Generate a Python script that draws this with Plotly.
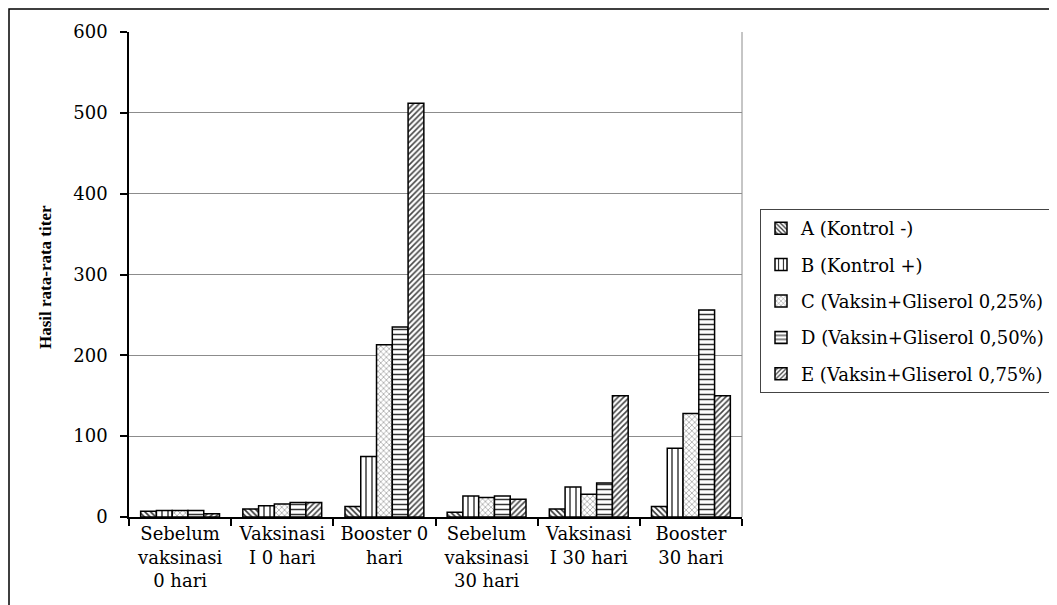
import plotly.graph_objects as go

categories = [
    "Sebelum<br>vaksinasi<br>0 hari",
    "Vaksinasi<br>I 0 hari",
    "Booster 0<br>hari",
    "Sebelum<br>vaksinasi<br>30 hari",
    "Vaksinasi<br>I 30 hari",
    "Booster<br>30 hari",
]
series_names = [
    "A (Kontrol -)",
    "B (Kontrol +)",
    "C (Vaksin+Gliserol 0,25%)",
    "D (Vaksin+Gliserol 0,50%)",
    "E (Vaksin+Gliserol 0,75%)",
]
values_A = [7, 10, 13, 6, 10, 13]
values_B = [8, 14, 75, 26, 37, 85]
values_C = [8, 16, 213, 24, 28, 128]
values_D = [8, 18, 235, 26, 42, 256]
values_E = [4, 18, 512, 22, 150, 150]
y_ticks = [0, 100, 200, 300, 400, 500, 600]
y_title = "Hasil rata-rata titer"

all_values = [values_A, values_B, values_C, values_D, values_E]
patterns = [
    dict(shape="\\", size=4, solidity=0.4, fg="#333333"),
    dict(shape="|", size=6, solidity=0.22, fg="#222222"),
    dict(shape="x", size=4, solidity=0.2, fg="#555555"),
    dict(shape="-", size=5, solidity=0.3, fg="#333333"),
    dict(shape="/", size=4, solidity=0.4, fg="#444444"),
]

FONT = "DejaVu Serif"

fig = go.Figure()
for i, (name, vals) in enumerate(zip(series_names, all_values)):
    p = patterns[i]
    fig.add_trace(go.Bar(
        name=name, x=categories, y=vals,
        legendgroup=name,
        marker=dict(
            color="white",
            line=dict(color="black", width=1.5),
            pattern=dict(shape=p["shape"], size=p["size"], solidity=p["solidity"],
                         fgcolor=p["fg"], bgcolor="white", fillmode="replace"),
        ),
    ))

# page has an 8px body margin; work in screen pixels and convert
OFF = 8
W, H = 1057 - OFF, 605 - OFF
left_s, right_s, top_s, bottom_s = 129, 742, 32, 517
L = left_s - OFF
R = W - (right_s - OFF)
T = top_s - OFF
B = H - (bottom_s - OFF)
pw = W - L - R
ph = H - T - B

def px_x(x):
    return (x - left_s) / pw

def px_y(y):
    return (bottom_s - y) / ph

fig.update_layout(
    width=W, height=H,
    margin=dict(l=L, r=R, t=T, b=B, autoexpand=False),
    paper_bgcolor="white", plot_bgcolor="white",
    barmode="group", bargap=0.228, bargroupgap=0,
    font=dict(family=FONT, size=18, color="black"),
    showlegend=True,
    legend=dict(
        x=px_x(760), y=px_y(209), xanchor="left", yanchor="top",
        bordercolor="#444444", borderwidth=1, bgcolor="white",
        font=dict(family=FONT, size=18, color="black"),
        traceorder="grouped", tracegroupgap=10,
    ),
    xaxis=dict(
        showline=True, linecolor="black", linewidth=1.5,
        ticks="outside", ticklen=7, tickcolor="black", tickwidth=1.5,
        tickson="boundaries", showgrid=False,
        tickfont=dict(family=FONT, size=18, color="black"),
    ),
    yaxis=dict(
        range=[0, 600], tickvals=y_ticks,
        showline=True, linecolor="black", linewidth=1.5,
        ticks="outside", ticklen=7, tickcolor="black", tickwidth=1.5,
        showgrid=True, gridcolor="#8c8c8c", gridwidth=1,
        zeroline=False, ticklabelstandoff=9,
        tickfont=dict(family=FONT, size=18, color="black"),
    ),
    shapes=[
        dict(type="line", xref="paper", yref="paper", x0=1, x1=1, y0=0, y1=1,
             line=dict(color="#8c8c8c", width=1)),
        dict(type="rect", xref="paper", yref="paper",
             x0=px_x(9), x1=px_x(1070), y0=px_y(620), y1=px_y(9),
             line=dict(color="black", width=1.5), fillcolor="rgba(0,0,0,0)",
             layer="below"),
    ],
    annotations=[
        dict(text="<b>" + y_title + "</b>", xref="paper", yref="paper",
             x=px_x(45), y=px_y(277), textangle=-90, showarrow=False,
             xanchor="center", yanchor="middle",
             font=dict(family="Liberation Serif", size=17, color="black")),
    ],
)

fig.write_html("out.html")
